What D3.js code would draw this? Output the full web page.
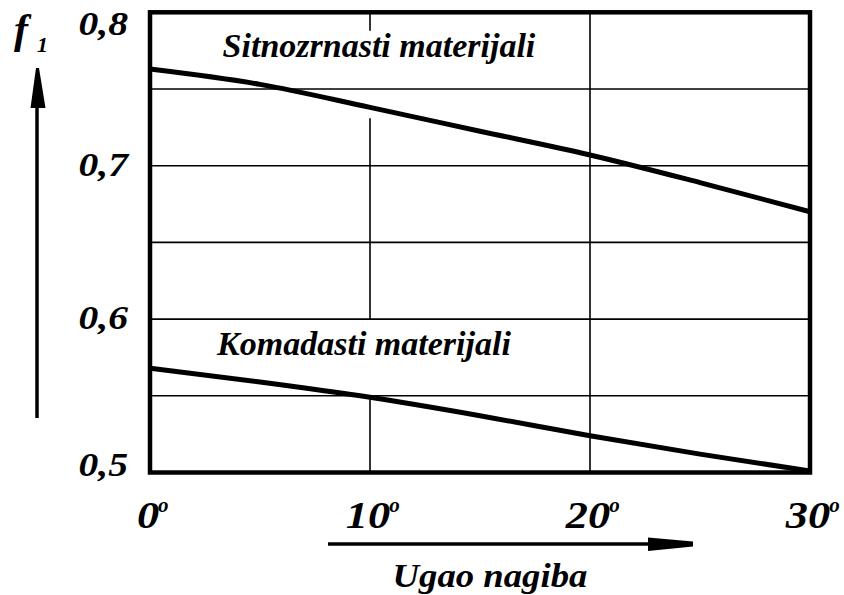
<!DOCTYPE html>
<html>
<head>
<meta charset="utf-8">
<script src="https://cdn.jsdelivr.net/npm/d3@7"></script>
</head>
<body style="margin:0">
<script>
// data
var angles = [0, 5, 10, 15, 20, 25, 30];
var sitnozrnasti = [0.763, 0.753, 0.738, 0.7225, 0.707, 0.689, 0.670];
var komadasti = [0.568, 0.559, 0.549, 0.537, 0.524, 0.512, 0.501];
var xTicks = [0, 10, 20, 30];
var yTicks = [0.5, 0.6, 0.7, 0.8];
var yTickLabels = ["0,5", "0,6", "0,7", "0,8"];
var yGrid = [0.55, 0.6, 0.65, 0.7, 0.75];
// vertical grid pieces (the 10deg line is broken behind the labels)
var xGridAt = [10, 10, 10, 20];
var xGridFrom = [0.8, 0.731, 0.55, 0.8];
var xGridTo = [0.788, 0.6, 0.5, 0.5];
var seriesLabels = ["Sitnozrnasti materijali", "Komadasti materijali"];
var labelAt = [[3.3, 0.771], [3.05, 0.5767]];
var yTitle = "f", yTitleSub = "1", xTitle = "Ugao nagiba";

// set up variables
var canvasWidth = 844,
    canvasHeight = 595,
    margin = {top: 12.3, right: 34, bottom: 122.5, left: 150};

// bold italic serif for every text
function serif(sel) {
    return sel
        .style("font-family", "'Liberation Serif'")
        .style("font-weight", "bold")
        .style("font-style", "italic");
}

var svg = d3.select("body")
    .append("svg")
        .attr("width", canvasWidth)
        .attr("height", canvasHeight);

var x = d3.scaleLinear()
        .domain([0, 30])
        .range([margin.left, canvasWidth - margin.right]);
var y = d3.scaleLinear()
        .domain([0.5, 0.8])
        .range([canvasHeight - margin.bottom, margin.top]);

// horizontal grid
svg.append("g")
    .selectAll("line")
    .data(yGrid)
    .enter()
    .append("line")
        .attr("x1", x(0)).attr("x2", x(30))
        .attr("y1", function(d) { return y(d); })
        .attr("y2", function(d) { return y(d); })
        .attr("stroke", "#000")
        .attr("stroke-width", 1.6);

// vertical grid
svg.append("g")
    .selectAll("line")
    .data(xGridAt)
    .enter()
    .append("line")
        .attr("x1", function(d) { return x(d); })
        .attr("x2", function(d) { return x(d); })
        .attr("y1", function(d, i) { return y(xGridFrom[i]); })
        .attr("y2", function(d, i) { return y(xGridTo[i]); })
        .attr("stroke", "#000")
        .attr("stroke-width", 1.6);

// curves
var line = d3.line()
    .x(function(d, i) { return x(angles[i]); })
    .y(function(d) { return y(d); })
    .curve(d3.curveMonotoneX);

[sitnozrnasti, komadasti].forEach(function(s) {
    svg.append("path")
        .attr("d", line(s))
        .attr("fill", "none")
        .attr("stroke", "#000")
        .attr("stroke-width", 5);
});

// frame
svg.append("rect")
    .attr("x", x(0))
    .attr("y", y(0.8))
    .attr("width", x(30) - x(0))
    .attr("height", y(0.5) - y(0.8))
    .attr("fill", "none")
    .attr("stroke", "#000")
    .attr("stroke-width", 4.5);

// series labels
seriesLabels.forEach(function(s, i) {
    svg.append("text")
        .call(serif)
        .attr("x", x(labelAt[i][0]))
        .attr("y", y(labelAt[i][1]))
        .attr("font-size", 34)
        .text(s);
});

// y tick labels
yTicks.forEach(function(d, i) {
    var b = Math.min(Math.max(y(d) + 10, 35), 476);
    svg.append("text")
        .call(serif)
        .attr("transform", "translate(128," + b + ") scale(1.2,1)")
        .attr("text-anchor", "end")
        .attr("font-size", 33)
        .text(yTickLabels[i]);
});

// x tick labels with degree mark (digits are half an em wide)
xTicks.forEach(function(t) {
    var cx = x(t) - 2,
        w = String(t).length * 0.5 * 37 * 1.2;
    svg.append("text")
        .call(serif)
        .attr("transform", "translate(" + cx + ",528) scale(1.2,1)")
        .attr("text-anchor", "middle")
        .attr("font-size", 37)
        .text(t);
    svg.append("text")
        .call(serif)
        .attr("x", cx + w / 2 - 1)
        .attr("y", 512)
        .attr("font-size", 21)
        .text("o");
});

// y axis title and arrow
svg.append("text")
    .call(serif)
    .attr("x", 14).attr("y", 43)
    .attr("font-size", 42)
    .text(yTitle);
svg.append("text")
    .call(serif)
    .attr("x", 37).attr("y", 52)
    .attr("font-size", 22)
    .text(yTitleSub);
svg.append("line")
    .attr("x1", 37).attr("x2", 37)
    .attr("y1", 418).attr("y2", 100)
    .attr("stroke", "#000").attr("stroke-width", 3.5);
svg.append("path")
    .attr("d", "M36,68 L39,68 L45.5,108 L30.5,108 Z")
    .attr("fill", "#000");

// x axis title and arrow
svg.append("line")
    .attr("x1", 328).attr("x2", 655)
    .attr("y1", 544).attr("y2", 544)
    .attr("stroke", "#000").attr("stroke-width", 3.5);
svg.append("path")
    .attr("d", "M648,537.5 L693,541.5 L693,546.5 L648,551 Z")
    .attr("fill", "#000");
svg.append("text")
    .call(serif)
    .attr("transform", "translate(490,587) scale(1.08,1)")
    .attr("text-anchor", "middle")
    .attr("font-size", 34)
    .text(xTitle);
</script>
</body>
</html>
